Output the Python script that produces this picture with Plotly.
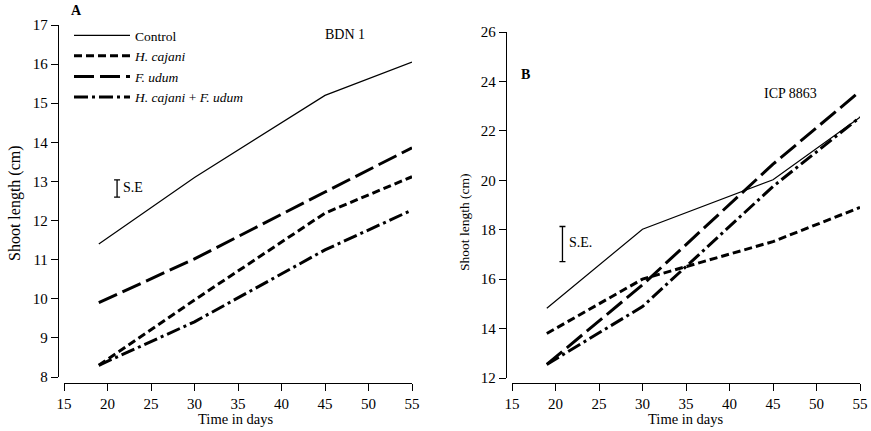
import plotly.graph_objects as go

# ---- data ----
days = [19, 30, 45, 55]

# Panel A (BDN 1)
a_control = [11.4, 13.1, 15.2, 16.05]
a_hcajani = [8.3, 9.97, 12.19, 13.12]
a_fudum = [9.9, 11.02, 12.73, 13.86]
a_both = [8.3, 9.41, 11.25, 12.27]

# Panel B (ICP 8863)
b_control = [14.82, 18.02, 20.02, 22.55]
b_hcajani = [13.8, 16.0, 17.52, 18.9]
b_fudum = [12.55, 15.77, 20.65, 23.6]
b_both = [12.55, 14.89, 19.75, 22.55]

# S.E. bars
a_se_x, a_se_y, a_se_err = [21.1], [12.82], [0.22]
b_se_x, b_se_y, b_se_err = [20.8], [17.42], [0.71]

series_names = ["Control", "<i>H. cajani</i>", "<i>F. udum</i>", "<i>H. cajani</i> + <i>F. udum</i>"]
styles = [
    dict(width=1.2, dash="solid"),
    dict(width=3, dash="8px,4px"),
    dict(width=3, dash="20px,6px"),
    dict(width=3, dash="14px,4px,3px,4px"),
]

FONT = "Liberation Serif"
W, H = 871, 431

def px_x(p):
    return p / W

def px_y(p):
    return 1 - p / H

fig = go.Figure()

for vals, name, st in zip([a_control, a_hcajani, a_fudum, a_both], series_names, styles):
    fig.add_trace(go.Scatter(x=days, y=vals, mode="lines", name=name,
                             line=dict(color="black", **st), xaxis="x", yaxis="y",
                             showlegend=True))
for vals, name, st in zip([b_control, b_hcajani, b_fudum, b_both], series_names, styles):
    fig.add_trace(go.Scatter(x=days, y=vals, mode="lines", name=name,
                             line=dict(color="black", **st), xaxis="x2", yaxis="y2",
                             showlegend=False))

# S.E. bars
fig.add_trace(go.Scatter(x=a_se_x, y=a_se_y, mode="markers", marker=dict(size=1, color="rgba(0,0,0,0)"),
                         error_y=dict(type="data", array=a_se_err, color="black", thickness=1.3, width=3),
                         xaxis="x", yaxis="y", showlegend=False))
fig.add_trace(go.Scatter(x=b_se_x, y=b_se_y, mode="markers", marker=dict(size=1, color="rgba(0,0,0,0)"),
                         error_y=dict(type="data", array=b_se_err, color="black", thickness=1.3, width=3),
                         xaxis="x2", yaxis="y2", showlegend=False))

axis_common = dict(showgrid=False, zeroline=False, showline=True, linecolor="black", linewidth=1.3,
                   ticks="outside", ticklen=7, tickwidth=1.2, tickcolor="black", automargin=False,
                   tickfont=dict(family=FONT, size=15, color="black"))

fig.update_layout(
    template="none",
    width=W, height=H, margin=dict(l=0, r=0, t=0, b=0),
    paper_bgcolor="white", plot_bgcolor="white",
    font=dict(family=FONT, color="black"),
    xaxis=dict(domain=[px_x(64), px_x(412)], range=[15, 55], dtick=5, tick0=15,
               anchor="free", position=px_y(383), **axis_common),
    yaxis=dict(domain=[px_y(377), px_y(25)], range=[8, 17], dtick=1,
               anchor="free", position=px_x(58), **axis_common),
    xaxis2=dict(domain=[px_x(512), px_x(860)], range=[15, 55], dtick=5, tick0=15,
                anchor="free", position=px_y(383), **axis_common),
    yaxis2=dict(domain=[px_y(378), px_y(32)], range=[12, 26], dtick=2,
                anchor="free", position=px_x(506), **axis_common),
    legend=dict(x=px_x(69), y=px_y(20), xanchor="left", yanchor="top",
                bgcolor="rgba(0,0,0,0)", font=dict(family=FONT, size=13.5, color="black"),
                itemwidth=56, tracegroupgap=0),
)

ann = [
    dict(text="<b>A</b>", x=px_x(76), y=px_y(11), xanchor="center", size=14),
    dict(text="BDN 1", x=px_x(345), y=px_y(34), xanchor="center", size=14),
    dict(text="<b>B</b>", x=px_x(525), y=px_y(74), xanchor="center", size=14),
    dict(text="ICP 8863", x=px_x(790), y=px_y(94), xanchor="center", size=14),
    dict(text="S.E", x=px_x(121), y=px_y(188), xanchor="left", size=14),
    dict(text="S.E.", x=px_x(567), y=px_y(242), xanchor="left", size=14),
    dict(text="Time in days", x=px_x(236), y=px_y(419), xanchor="center", size=14.5),
    dict(text="Time in days", x=px_x(686), y=px_y(419), xanchor="center", size=14.5),
    dict(text="Shoot length (cm)", x=px_x(15), y=px_y(203), textangle=-90, xanchor="center", size=16),
    dict(text="Shoot length (cm)", x=px_x(465), y=px_y(222), textangle=-90, xanchor="center", size=13.5),
]
for a in ann:
    size = a.pop("size")
    fig.add_annotation(xref="paper", yref="paper", showarrow=False, yanchor="middle",
                       font=dict(family=FONT, size=size, color="black"), **a)

fig.write_html("out.html", config={"displayModeBar": False},
               post_script="document.body.style.margin='0px';document.body.style.overflow='hidden';")
